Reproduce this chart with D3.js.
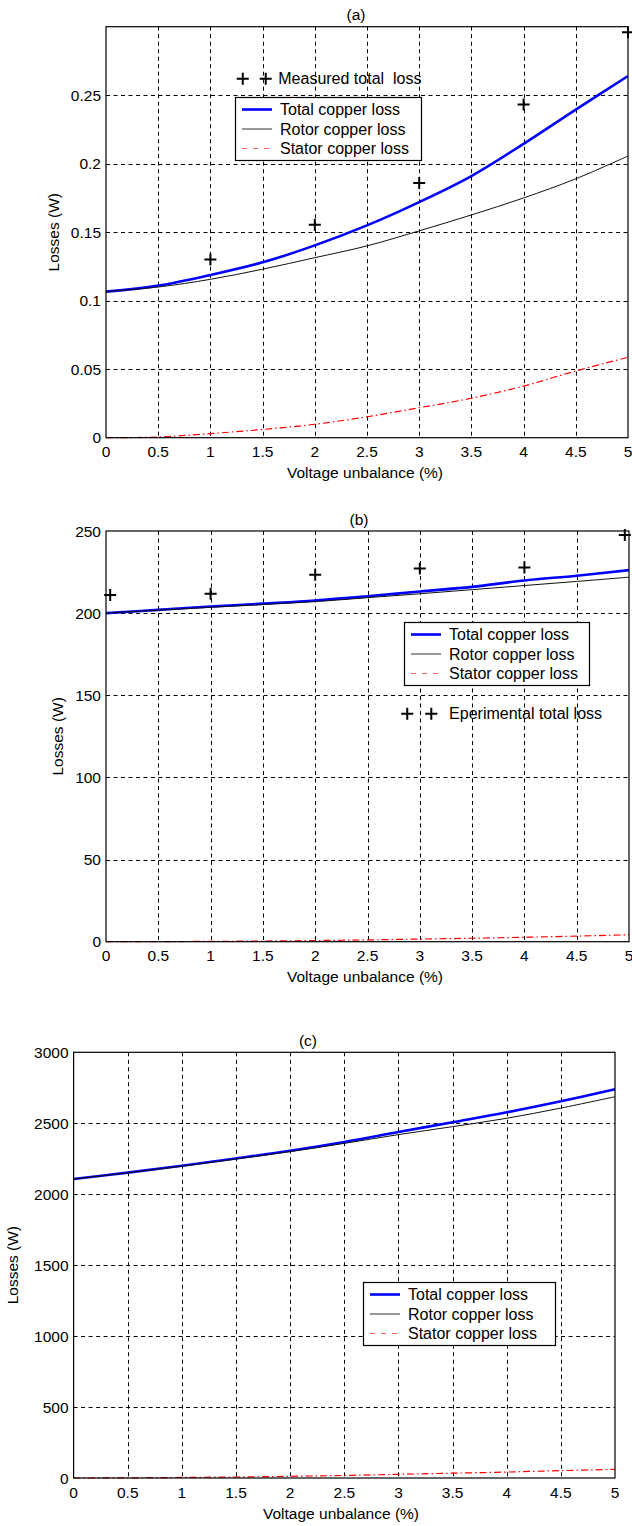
<!DOCTYPE html>
<html>
<head>
<meta charset="utf-8">
<script src="https://cdn.jsdelivr.net/npm/d3@7"></script>
<style>
  body { margin: 0; background: #fff; }
  svg text { font-family: "Liberation Sans", Arial, Helvetica, sans-serif; fill: #000; }
</style>
</head>
<body>
<div id="Area"></div>
<script>
  // x values shared by all three panels (voltage unbalance, %)
  var xValues = [0, 0.5, 1, 1.5, 2, 2.5, 3, 3.5, 4, 4.5, 5];
  var xTicks = [0, 0.5, 1, 1.5, 2, 2.5, 3, 3.5, 4, 4.5, 5];

  // panel (a)
  var totalA = [0.1066, 0.111, 0.1188, 0.128, 0.1404, 0.155, 0.172, 0.191, 0.2145, 0.2395, 0.264];
  var rotorA = [0.1066, 0.110, 0.1156, 0.123, 0.1314, 0.140, 0.151, 0.1626, 0.175, 0.189, 0.2056];
  var statorA = [0, 0.0005, 0.003, 0.006, 0.0098, 0.0153, 0.0219, 0.0288, 0.0377, 0.0487, 0.0587];
  var measuredXA = [1, 2, 3, 4, 5];
  var measuredA = [0.130, 0.1555, 0.186, 0.2433, 0.296];
  var yTicksA = [0, 0.05, 0.1, 0.15, 0.2, 0.25];

  // panel (b)
  var totalB = [200, 202, 204, 205.8, 207.7, 210.3, 213.2, 216, 219.9, 222.8, 226.2];
  var rotorB = [200, 201.8, 203.5, 205.2, 207, 209.4, 211.8, 214.3, 216.8, 219.3, 221.9];
  var statorB = [0, 0.05, 0.2, 0.4, 0.7, 1.1, 1.6, 2.1, 2.7, 3.4, 4.2];
  var measuredXB = [0.04, 1, 2, 3, 4, 4.96];
  var measuredB = [211, 211.8, 223.3, 227.2, 227.8, 247.5];
  var yTicksB = [0, 50, 100, 150, 200, 250];

  // panel (c)
  var totalC = [2107, 2152, 2200, 2252, 2306, 2368, 2438, 2507, 2577, 2655, 2739];
  var rotorC = [2107, 2151, 2197, 2248, 2300, 2358, 2420, 2476, 2535, 2607, 2687];
  var statorC = [0, 1, 4, 7, 12, 18, 26, 34, 42, 52, 61];
  var yTicksC = [0, 500, 1000, 1500, 2000, 2500, 3000];

  var legendNames = ["Total copper loss", "Rotor copper loss", "Stator copper loss"];

  var svg = d3.select("#Area")
    .append("svg")
      .attr("width", 632)
      .attr("height", 1526);

  svg.append("rect").attr("width", 632).attr("height", 1526).attr("fill", "#fff");

  function plus(sel, s) {
    sel.append("path")
      .attr("d", "M" + (-s) + ",0H" + s + "M0," + (-s) + "V" + s)
      .attr("stroke", "#000")
      .attr("stroke-width", 2)
      .attr("fill", "none");
  }

  function drawPanel(p) {
    var x = d3.scaleLinear().domain([0, 5]).range([p.left, p.right]);
    var y = d3.scaleLinear().domain(p.yDomain).range([p.bottom, p.top]);
    var g = svg.append("g");

    // grid
    g.append("g").selectAll("line.gx")
      .data(xTicks.slice(1, -1))
      .enter().append("line")
        .attr("x1", d => Math.round(x(d)) + 0.5).attr("x2", d => Math.round(x(d)) + 0.5)
        .attr("y1", p.top).attr("y2", p.bottom)
        .attr("stroke", "#000").attr("stroke-dasharray", "4,3.5");
    g.append("g").selectAll("line.gy")
      .data(p.yTicks.filter(d => y(d) < p.bottom - 1 && y(d) > p.top + 1))
      .enter().append("line")
        .attr("x1", p.left).attr("x2", p.right)
        .attr("y1", d => Math.round(y(d)) + 0.5).attr("y2", d => Math.round(y(d)) + 0.5)
        .attr("stroke", "#000").attr("stroke-dasharray", "4,3.5");

    // curves
    var line = d3.line()
      .x((d, i) => x(xValues[i]))
      .y(d => y(d))
      .curve(d3.curveCatmullRom);
    g.append("path").attr("d", line(p.total))
      .attr("fill", "none").attr("stroke", "#0000ff").attr("stroke-width", 2.6);
    g.append("path").attr("d", line(p.rotor))
      .attr("fill", "none").attr("stroke", "#111").attr("stroke-width", 1);
    g.append("path").attr("d", line(p.stator))
      .attr("fill", "none").attr("stroke", "#ff0000").attr("stroke-width", 1.2)
      .attr("stroke-dasharray", "7,3,1.5,3");

    // measured points
    if (p.mx) {
      p.mx.forEach(function(v, i) {
        plus(g.append("g").attr("transform", "translate(" + x(v) + "," + y(p.my[i]) + ")"), 6);
      });
    }

    // axes box
    g.append("rect")
      .attr("x", p.left).attr("y", p.top)
      .attr("width", p.right - p.left).attr("height", p.bottom - p.top)
      .attr("fill", "none").attr("stroke", "#000").attr("stroke-width", 1.2);

    // tick labels
    g.selectAll("text.xt")
      .data(xTicks)
      .enter().append("text")
        .attr("x", d => x(d)).attr("y", p.bottom + 14)
        .attr("text-anchor", "middle").attr("dominant-baseline", "central")
        .style("font-size", "15.5px")
        .text(d => d);
    g.selectAll("text.yt")
      .data(p.yTicks)
      .enter().append("text")
        .attr("x", p.left - 5).attr("y", d => y(d))
        .attr("text-anchor", "end").attr("dominant-baseline", "central")
        .style("font-size", "15.5px")
        .text(d => d);

    // title and axis labels
    g.append("text").attr("x", p.titleX).attr("y", p.top - 12)
      .attr("text-anchor", "middle").attr("dominant-baseline", "central")
      .style("font-size", "15.5px").text(p.title);
    g.append("text").attr("x", p.xlabelX).attr("y", p.bottom + 35)
      .attr("text-anchor", "middle").attr("dominant-baseline", "central")
      .style("font-size", "15.5px").text("Voltage unbalance (%)");
    g.append("text")
      .attr("transform", "translate(" + p.ylabelX + "," + (p.top + p.bottom) / 2 + ") rotate(-90)")
      .attr("text-anchor", "middle").attr("dominant-baseline", "central")
      .style("font-size", "15.5px").text("Losses (W)");

    // legend box
    var lg = g.append("g").attr("transform", "translate(" + p.legend[0] + "," + p.legend[1] + ")");
    lg.append("rect").attr("x", 0.5).attr("y", 0.5)
      .attr("width", p.legend[2]).attr("height", 63)
      .attr("fill", "#fff").attr("stroke", "#000").attr("stroke-width", 1.2);
    var styles = [
      {c: "#0000ff", w: 2.6, dash: null},
      {c: "#333", w: 1, dash: null},
      {c: "#ff6060", w: 1, dash: "5,6"}
    ];
    legendNames.forEach(function(name, i) {
      var yy = 12.5 + i * 19.5;
      var l = lg.append("line").attr("x1", 7).attr("x2", 37).attr("y1", yy).attr("y2", yy)
        .attr("stroke", styles[i].c).attr("stroke-width", styles[i].w);
      if (styles[i].dash) l.attr("stroke-dasharray", styles[i].dash);
      lg.append("text").attr("x", 45).attr("y", yy)
        .attr("dominant-baseline", "central")
        .style("font-size", "16px").text(name);
    });

    // hand-made legend for the measured points
    if (p.note) {
      p.note.px.forEach(function(v) {
        plus(g.append("g").attr("transform", "translate(" + x(v) + "," + y(p.note.py) + ")"), 6);
      });
      g.append("text").attr("x", x(p.note.tx)).attr("y", y(p.note.py))
        .attr("dominant-baseline", "central")
        .attr("xml:space", "preserve").style("white-space", "pre")
        .style("font-size", "16px").text(p.note.text);
    }
  }

  drawPanel({
    left: 106, right: 628, top: 26.7, bottom: 437.7,
    yDomain: [0, 0.3], yTicks: yTicksA,
    total: totalA, rotor: rotorA, stator: statorA,
    mx: measuredXA, my: measuredA,
    title: "(a)", titleX: 356, xlabelX: 365, ylabelX: 53,
    legend: [235, 97, 186],
    note: {px: [1.31, 1.53], py: 0.262, tx: 1.65, text: "Measured total  loss"}
  });

  drawPanel({
    left: 106, right: 629, top: 531, bottom: 941.7,
    yDomain: [0, 250], yTicks: yTicksB,
    total: totalB, rotor: rotorB, stator: statorB,
    mx: measuredXB, my: measuredB,
    title: "(b)", titleX: 359, xlabelX: 365, ylabelX: 57,
    legend: [404, 622, 185],
    note: {px: [2.88, 3.11], py: 138.7, tx: 3.28, text: "Eperimental total loss"}
  });

  drawPanel({
    left: 73.6, right: 615, top: 1052.3, bottom: 1478,
    yDomain: [0, 3000], yTicks: yTicksC,
    total: totalC, rotor: rotorC, stator: statorC,
    title: "(c)", titleX: 308, xlabelX: 341, ylabelX: 12,
    legend: [363, 1282, 192]
  });
</script>
</body>
</html>
